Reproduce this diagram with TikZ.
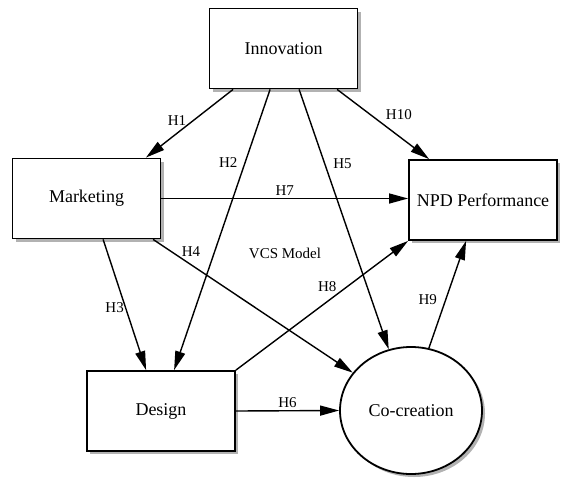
\documentclass[tikz,border=0pt]{standalone}
\usepackage{fontspec}
\setmainfont{Liberation Serif}
\usetikzlibrary{arrows.meta,shadows,shapes.geometric}

\begin{document}
\begin{tikzpicture}[x=1pt,y=-1pt,
		box/.style={draw,line width=1.8pt,fill=white,minimum width=148pt,minimum height=80pt,font=\fontsize{18}{21}\selectfont,drop shadow={shadow xshift=3pt,shadow yshift=-3pt,fill=gray!60,opacity=1}},
		hyp/.style={line width=1.4pt,-{Triangle[length=19pt,width=10pt]}},
		lbl/.style={inner sep=1pt,font=\fontsize{15}{18}\selectfont}]
				\useasboundingbox (0,0) rectangle (561,479);
				
				\node[box] (inno) at (283.5,48.5) {Innovation};
				\node[box] (mark) at (86.5,198.5) {Marketing};
				\node[box] (npd) at (483,200) {NPD Performance};
				\node[box] (design) at (161,411) {Design};
				\node[box,ellipse,minimum width=142pt,minimum height=127pt] (cocr) at (411,410.5) {Co-creation};
				\node[lbl] (vcs) at (285,253) {VCS Model};
				
				% from Innovation
				\draw[hyp] ([xshift=24.5pt]inno.south west) -- node[lbl,pos=0.45,left=6pt] {H1} ([xshift=-15.5pt]mark.north east);
				\draw[hyp] ([xshift=61.5pt]inno.south west) -- node[lbl,pos=0.26,left=6pt] {H2} ([xshift=88pt]design.north west);
				\draw[hyp] ([xshift=90.5pt]inno.south west) -- node[lbl,pos=0.285,right=7pt] {H5} (cocr.110);
				\draw[hyp] ([xshift=128.5pt]inno.south west) -- node[lbl,pos=0.36,right=14pt] {H10} ([xshift=21pt]npd.north west);
				
				% from Marketing
				\draw[hyp] (mark.east) -- node[lbl,pos=0.5,above=1pt] {H7} (mark.east -| npd.west);
				\draw[hyp] ([xshift=91.5pt]mark.south west) -- node[lbl,pos=0.52,left=0pt] {H3} ([xshift=60pt]design.north west);
				\draw[hyp] ([xshift=141.5pt]mark.south west) -- node[lbl,pos=0.19,yshift=13pt] {H4} (cocr.147);
				
				% into NPD Performance and Co-creation
				\draw[hyp] (design.north east) -- node[lbl,pos=0.53,yshift=15pt] {H8} (npd.south west);
				\draw[hyp] (cocr.74) -- node[lbl,pos=0.45,left=7pt] {H9} ([xshift=58pt]npd.south west);
				\draw[hyp] (design.east) -- node[lbl,pos=0.5,above=1pt] {H6} (cocr.west);
\end{tikzpicture}
\end{document}
